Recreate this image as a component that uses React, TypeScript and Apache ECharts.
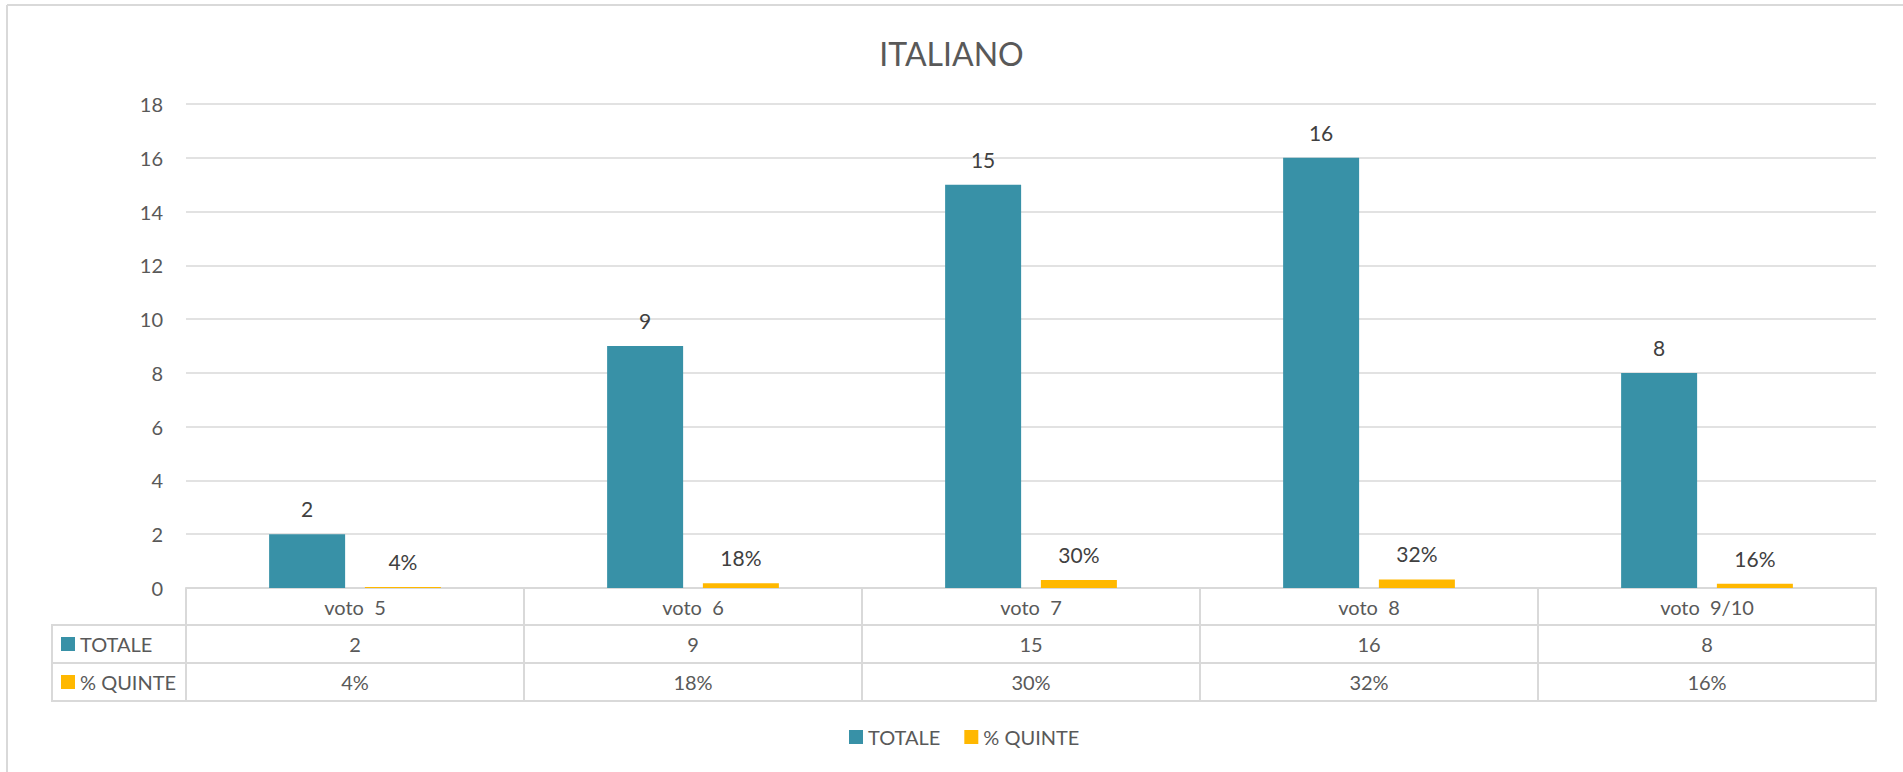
import React, { useEffect, useRef } from "react";
import * as echarts from "echarts";

const categories = ["voto  5", "voto  6", "voto  7", "voto  8", "voto  9/10"];
const totale = [2, 9, 15, 16, 8];
const quinte = [0.04, 0.18, 0.3, 0.32, 0.16];
const yTicks = { min: 0, max: 18, interval: 2 };
const seriesNames = ["TOTALE", "% QUINTE"];

const TEAL = "#3891A7";
const GOLD = "#FFB800";
const GRID_C = "#D9D9D9";
const FONT = "Lato";

const pct = (v: number) => Math.round(v * 100) + "%";

export default function App() {
  const ref = useRef<HTMLDivElement>(null);
  useEffect(() => {
    if (!ref.current) return;
    const chart = echarts.init(ref.current, undefined, { renderer: "svg" });
    const tableLabel = (fmt: (i: number) => string) => ({
      show: true,
      interval: 0,
      margin: 19,
      verticalAlign: "middle",
      fontFamily: FONT,
      fontSize: 20,
      color: "#595959",
      formatter: (_v: string, i: number) => fmt(i),
    });
    chart.setOption({
      animation: false,
      backgroundColor: "#fff",
      textStyle: { fontFamily: FONT },
      title: {
        text: "ITALIANO",
        left: "center",
        top: 32,
        textStyle: { fontFamily: FONT, fontSize: 32, fontWeight: "normal", color: "#595959" },
      },
      legend: {
        data: seriesNames,
        left: 844,
        top: 722,
        icon: "rect",
        itemWidth: 14,
        itemHeight: 14,
        itemGap: 24,
        textStyle: { fontFamily: FONT, fontSize: 20, color: "#595959" },
      },
      grid: { left: 186, right: 27, top: 104, bottom: 184, containLabel: false },
      yAxis: {
        type: "value",
        min: yTicks.min,
        max: yTicks.max,
        interval: yTicks.interval,
        axisLine: { show: false },
        axisTick: { show: false },
        axisLabel: { margin: 23, fontFamily: FONT, fontSize: 20, color: "#595959" },
        splitLine: { lineStyle: { color: GRID_C, width: 1.5 } },
      },
      xAxis: [
        {
          type: "category",
          data: categories,
          position: "bottom",
          axisLine: { show: true, lineStyle: { color: GRID_C, width: 2 } },
          axisTick: { show: true, length: 113, interval: 0, lineStyle: { color: GRID_C, width: 2 } },
          axisLabel: tableLabel((i) => categories[i]),
        },
        {
          type: "category",
          data: categories,
          position: "bottom",
          offset: 37,
          axisLine: { show: true, lineStyle: { color: GRID_C, width: 2 } },
          axisTick: { show: false },
          axisLabel: tableLabel((i) => String(totale[i])),
        },
        {
          type: "category",
          data: categories,
          position: "bottom",
          offset: 75,
          axisLine: { show: true, lineStyle: { color: GRID_C, width: 2 } },
          axisTick: { show: false },
          axisLabel: tableLabel((i) => pct(quinte[i])),
        },
        {
          type: "category",
          data: categories,
          position: "bottom",
          offset: 113,
          axisLine: { show: true, lineStyle: { color: GRID_C, width: 2 } },
          axisTick: { show: false },
          axisLabel: { show: false },
        },
      ],
      series: [
        {
          name: seriesNames[0],
          type: "bar",
          xAxisIndex: 0,
          data: totale,
          barWidth: 76,
          barGap: "26%",
          itemStyle: { color: TEAL },
          label: {
            show: true,
            position: "top",
            distance: 15,
            fontFamily: FONT,
            fontSize: 21,
            color: "#404040",
          },
        },
        {
          name: seriesNames[1],
          type: "bar",
          xAxisIndex: 0,
          data: quinte,
          barWidth: 76,
          barGap: "26%",
          itemStyle: { color: GOLD },
          label: {
            show: true,
            position: "top",
            distance: 15,
            fontFamily: FONT,
            fontSize: 21,
            color: "#404040",
            formatter: (p: any) => pct(p.value),
          },
        },
      ],
      graphic: [
        { type: "line", shape: { x1: 7, y1: 5, x2: 1903, y2: 5 }, style: { stroke: GRID_C, lineWidth: 2 } },
        { type: "line", shape: { x1: 7, y1: 5, x2: 7, y2: 772 }, style: { stroke: GRID_C, lineWidth: 2 } },
        { type: "line", shape: { x1: 52, y1: 625, x2: 186, y2: 625 }, style: { stroke: GRID_C, lineWidth: 2 } },
        { type: "line", shape: { x1: 52, y1: 663, x2: 186, y2: 663 }, style: { stroke: GRID_C, lineWidth: 2 } },
        { type: "line", shape: { x1: 52, y1: 701, x2: 186, y2: 701 }, style: { stroke: GRID_C, lineWidth: 2 } },
        { type: "line", shape: { x1: 52, y1: 624, x2: 52, y2: 702 }, style: { stroke: GRID_C, lineWidth: 2 } },
        { type: "rect", shape: { x: 61, y: 637, width: 14, height: 14 }, style: { fill: TEAL } },
        { type: "rect", shape: { x: 61, y: 675, width: 14, height: 14 }, style: { fill: GOLD } },
        {
          type: "text",
          x: 80,
          y: 644,
          style: { text: seriesNames[0], fontFamily: FONT, fontSize: 20, fill: "#595959", verticalAlign: "middle", align: "left" },
        },
        {
          type: "text",
          x: 80,
          y: 682,
          style: { text: seriesNames[1], fontFamily: FONT, fontSize: 20, fill: "#595959", verticalAlign: "middle", align: "left" },
        },
      ],
    });
    return () => chart.dispose();
  }, []);
  return (
    <div
      ref={ref}
      style={{ position: "fixed", left: 0, top: 0, width: 1903, height: 772 }}
    />
  );
}
